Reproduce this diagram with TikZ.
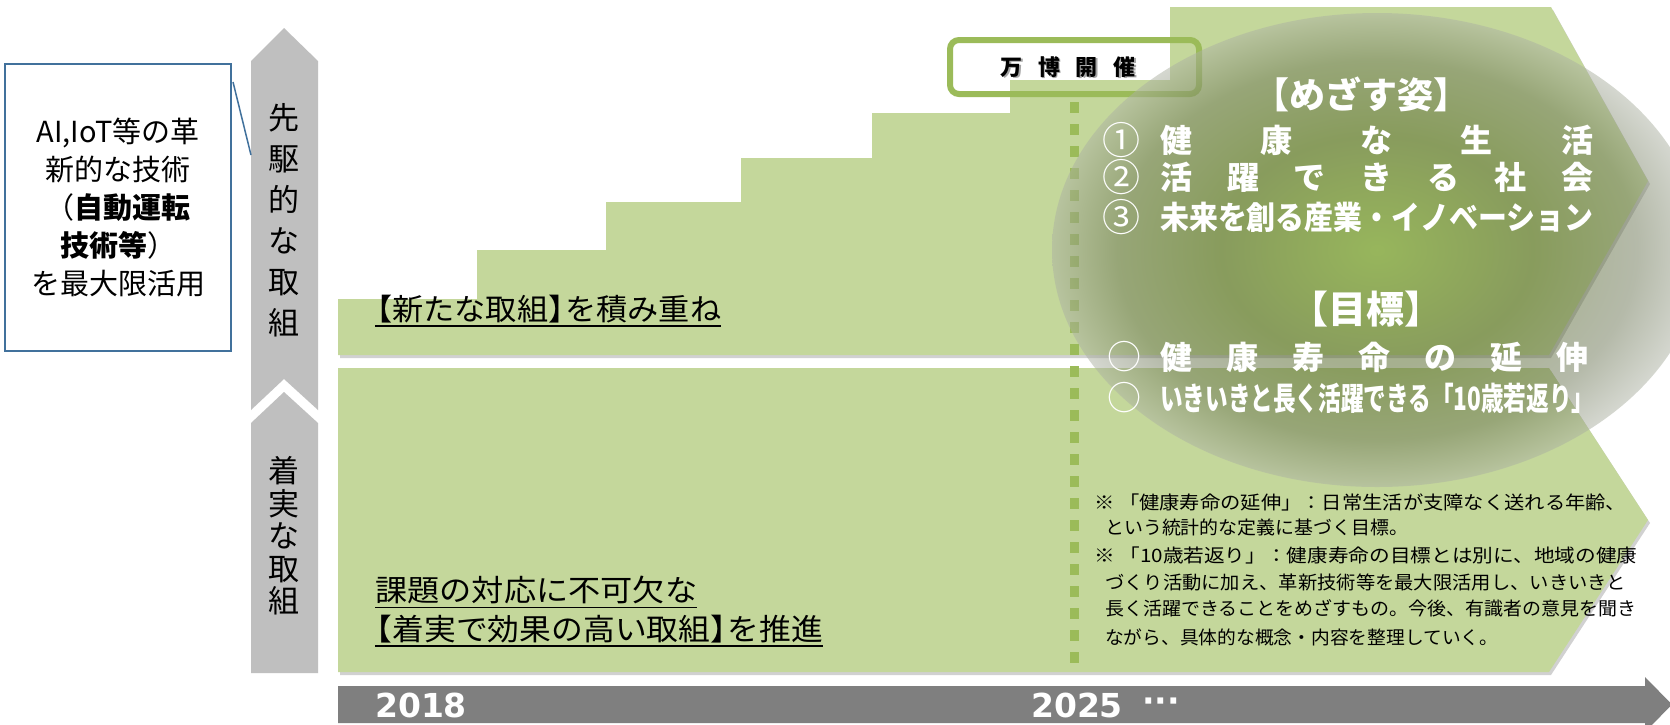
\documentclass[tikz,border=0pt]{standalone}
\usepackage{fontspec}
\setmainfont{Noto Sans CJK JP}
\newfontfamily\yearfont{DejaVu Sans}
\usepackage{graphicx}
\definecolor{bandgreen}{HTML}{C4D79B}
\definecolor{olivegreen}{HTML}{9BBB59}
\definecolor{arrowgray}{HTML}{BFBFBF}
\definecolor{timegray}{HTML}{7F7F7F}
\definecolor{boxblue}{HTML}{41719C}
\definecolor{ellin}{RGB}{108,150,30}
\definecolor{ellmid}{RGB}{78,98,32}
\definecolor{ellouter}{RGB}{108,118,85}
\definecolor{ellrim}{RGB}{172,177,162}
\pgfdeclareradialshading{ellshade}{\pgfpointorigin}{color(0bp)=(ellin); color(12bp)=(ellmid); color(20bp)=(ellouter); color(25bp)=(ellrim); color(50bp)=(ellrim)}
\newcommand\myul[1]{\setbox0=\hbox{#1}\rlap{\smash{\rule[-6.5pt]{\wd0}{1.5pt}}}\box0}
\newcommand\fitw[2]{\resizebox{#1}{\height}{#2}}
\begin{document}
\begin{tikzpicture}[x=1pt,y=-1pt,
  vlabel/.style={align=center, inner sep=0pt, text=black},
  ewhite/.style={text=white, inner sep=0pt, font=\bfseries\fontsize{32}{32}\selectfont},
  enum/.style={text=white, inner sep=0pt, font=\fontsize{38}{38}\selectfont},
  bandtext/.style={anchor=west, inner sep=0pt, font=\fontsize{30}{30}\selectfont},
  notetext/.style={anchor=base west, inner sep=0pt, font=\fontsize{18.5}{18.5}\selectfont},
  yeartext/.style={text=white, inner sep=0pt, font=\yearfont\bfseries\fontsize{33}{33}\selectfont},
  ]
\useasboundingbox (0,0) rectangle (1670,724);
\fill[white] (0,0) rectangle (1670,724);

% gray side arrows
\fill[arrowgray] (284,28) -- (318,61) -- (318,410) -- (284,379) -- (251,410) -- (251,61) -- cycle;
\fill[arrowgray] (284,392) -- (318,423) -- (318,673) -- (251,673) -- (251,423) -- cycle;
\node[vlabel, font=\fontsize{31}{41}\selectfont] (senku) at (284,220) {先\\駆\\的\\な\\取\\組};
\node[vlabel, font=\fontsize{31}{32.5}\selectfont] (chakujitsu) at (284,536) {着\\実\\な\\取\\組};

% left callout box
\node[draw=boxblue, line width=2pt, fill=white, minimum width=226pt, minimum height=287pt, inner sep=0pt, align=center, font=\fontsize{29}{38}\selectfont] (techbox) at (118,207.5) {AI,IoT等の革\\新的な技術\\（\textbf{自動運転}\\\textbf{技術等}）\\を最大限活用};
\coordinate (calloutA) at (233,82);
\coordinate (calloutB) at (251,155);
\draw[boxblue, line width=1.5pt] (calloutA) -- (calloutB);

% expo box fill (behind steps)
\fill[white, rounded corners=9pt] (950,40) rectangle (1199,94);

% band shadows
\begin{scope}[shift={(2,3)}]
\fill[black, opacity=0.18] (338,355) -- (338,299) -- (477,299) -- (477,250) -- (606,250) -- (606,202) -- (741,202) -- (741,158) -- (872,158) -- (872,113) -- (1010,113) -- (1010,80) -- (1170,80) -- (1170,7) -- (1551,7) -- (1648,181) -- (1549,355) -- cycle;
\fill[black, opacity=0.18] (338,368) -- (1549,368) -- (1648,520) -- (1549,672) -- (338,672) -- cycle;
\end{scope}
% bands
\fill[bandgreen] (338,355) -- (338,299) -- (477,299) -- (477,250) -- (606,250) -- (606,202) -- (741,202) -- (741,158) -- (872,158) -- (872,113) -- (1010,113) -- (1010,80) -- (1170,80) -- (1170,7) -- (1551,7) -- (1648,181) -- (1549,355) -- cycle;
\fill[bandgreen] (338,368) -- (1549,368) -- (1648,520) -- (1549,672) -- (338,672) -- cycle;

% expo box border and label
\node[draw=olivegreen, line width=6pt, rounded corners=9pt, minimum width=249pt, minimum height=54pt, inner sep=0pt] (expo) at (1074.5,67) {};
\node[inner sep=0pt, text=black!35, font=\bfseries\fontsize{22}{22}\selectfont] (expoShadow) at (1069.5,68.5) {\makebox[135pt][l]{万\hfill 博\hfill 開\hfill 催}};
\node[inner sep=0pt, font=\bfseries\fontsize{22}{22}\selectfont] (expoText) at (1068,67) {\makebox[135pt][l]{万\hfill 博\hfill 開\hfill 催}};

% dotted milestone line
\coordinate (dotend) at (1074.5,672);
\draw[olivegreen, line width=9pt, dash pattern=on 11pt off 11pt, dash phase=17pt] (expo.south) -- (dotend);

% band texts
\node[bandtext] (newWork) at (375,309) {\fitw{346pt}{\myul{\kern-0.45em【新たな取組】\kern-0.45em を積み重ね}}};
\node[bandtext] (steady1) at (375,590) {\fitw{322pt}{\myul{課題の対応に不可欠な}}};
\node[bandtext] (steady2) at (375,629) {\fitw{448pt}{\myul{\kern-0.45em【着実で効果の高い取組】\kern-0.45em を推進}}};

% vision ellipse
\shade[shading=ellshade, opacity=0.5] (1377,250) ellipse [x radius=325pt, y radius=237pt];

% ellipse texts
\node[ewhite, font=\bfseries\fontsize{36}{36}\selectfont] (aimTitle) at (1361,94) {【めざす姿】};
\node[enum] (num1) at (1121,140) {①};
\node[ewhite, anchor=west] (aim1) at (1160,140) {\makebox[433pt][l]{健\hfill 康\hfill な\hfill 生\hfill 活}};
\node[enum] (num2) at (1121,177) {②};
\node[ewhite, anchor=west] (aim2) at (1160,177) {\makebox[433pt][l]{活\hfill 躍\hfill で\hfill き\hfill る\hfill 社\hfill 会}};
\node[enum] (num3) at (1121,217) {③};
\node[ewhite, anchor=west] (aim3) at (1160,217) {\fitw{433pt}{未来を創る産業・イノベーション}};
\node[ewhite, font=\bfseries\fontsize{38}{38}\selectfont] (goalTitle) at (1366,309) {【目標】};
\node[enum, font=\fontsize{34}{34}\selectfont] (circ1) at (1124,357) {○};
\node[ewhite, anchor=west] (goal1) at (1160,357) {\makebox[428pt][l]{健\hfill 康\hfill 寿\hfill 命\hfill の\hfill 延\hfill 伸}};
\node[enum, font=\fontsize{34}{34}\selectfont] (circ2) at (1124,398) {○};
\node[ewhite, anchor=west] (goal2) at (1160,398) {\fitw{434pt}{いきいきと長く活躍できる「10歳若返り」}};

% notes
\node[notetext] (note1) at (1094,509) {\fitw{532pt}{※ 「健康寿命の延伸」：日常生活が支障なく送れる年齢、}};
\node[notetext] (note2) at (1105,534) {\fitw{303pt}{という統計的な定義に基づく目標。}};
\node[notetext] (note3) at (1094,562) {\fitw{543pt}{※ 「10歳若返り」：健康寿命の目標とは別に、地域の健康}};
\node[notetext] (note4) at (1105,589) {\fitw{521pt}{づくり活動に加え、革新技術等を最大限活用し、いきいきと}};
\node[notetext] (note5) at (1105,615) {\fitw{531pt}{長く活躍できることをめざすもの。今後、有識者の意見を聞き}};
\node[notetext] (note6) at (1105,644) {\fitw{393pt}{ながら、具体的な概念・内容を整理していく。}};

% time axis
\fill[timegray] (338,686) -- (1645,686) -- (1645,677) -- (1672,704.5) -- (1645,732) -- (1645,723) -- (338,723) -- cycle;
\node[yeartext] (y2018) at (421,705) {2018};
\node[yeartext] (y2025) at (1077,705) {2025};
\node[yeartext] (ydots) at (1161,705) {···};
\end{tikzpicture}
\end{document}
